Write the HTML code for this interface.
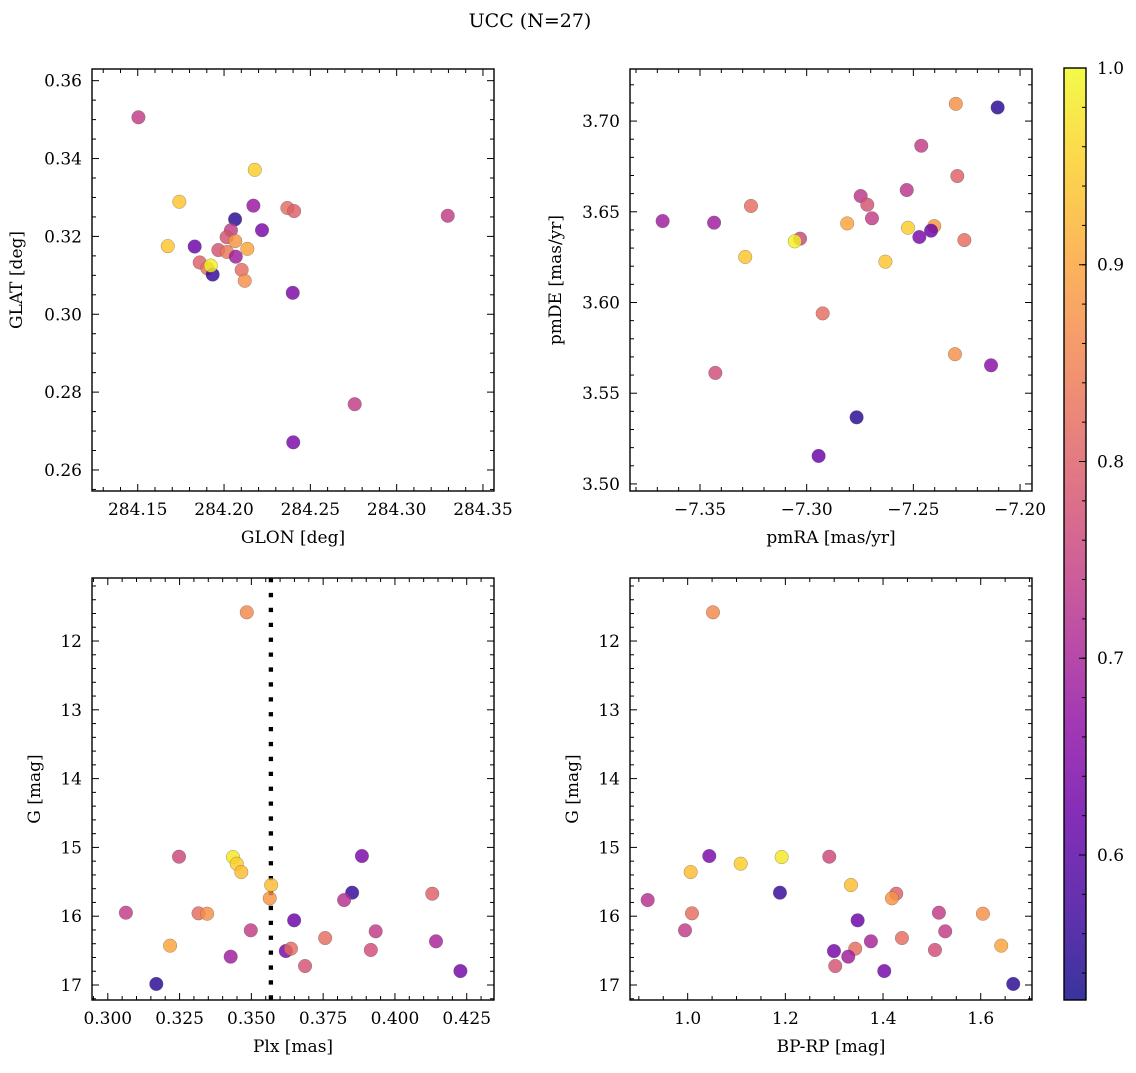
<!DOCTYPE html>
<html><head><meta charset="utf-8"><style>
html,body{margin:0;padding:0;background:#fff;}
svg text{font-family:"DejaVu Serif","Liberation Serif",serif;fill:#000;}
</style></head><body>
<svg id="fig" width="1136" height="1068" viewBox="0 0 1136 1068" xmlns="http://www.w3.org/2000/svg">
<text x="530" y="27" font-size="19" text-anchor="middle">UCC (N=27)</text>
</svg>
<script>
// Panel 1: sky positions
const glon=[284.1504,284.2178,284.1741,284.2170,284.2367,284.2406,284.3296,284.2064,284.2220,284.2040,284.2015,284.2065,284.1674,284.1830,284.1967,284.2017,284.2135,284.2068,284.1859,284.1903,284.1934,284.1923,284.2102,284.2120,284.2398,284.2757,284.2401];
const glat=[0.3506,0.3371,0.3289,0.3279,0.3273,0.3265,0.3253,0.3244,0.3216,0.3216,0.3198,0.3188,0.3175,0.3174,0.3165,0.3160,0.3168,0.3148,0.3133,0.3118,0.3102,0.3125,0.3114,0.3086,0.3055,0.2769,0.2671];
const prob1=[0.74,0.95,0.94,0.68,0.82,0.80,0.74,0.55,0.64,0.74,0.78,0.88,0.94,0.62,0.78,0.84,0.90,0.69,0.80,0.83,0.56,0.99,0.82,0.87,0.64,0.74,0.64];
// Panel 2: proper motions
const pmra=[-7.2301,-7.2105,-7.2463,-7.2294,-7.2531,-7.2747,-7.2716,-7.3261,-7.2694,-7.3675,-7.3434,-7.2810,-7.2525,-7.2402,-7.2417,-7.2472,-7.3031,-7.3056,-7.2261,-7.3288,-7.2631,-7.2925,-7.2305,-7.2136,-7.3428,-7.2766,-7.2944];
const pmde=[3.7095,3.7075,3.6864,3.6697,3.6620,3.6587,3.6539,3.6532,3.6464,3.6449,3.6440,3.6436,3.6412,3.6421,3.6396,3.6361,3.6352,3.6337,3.6344,3.6251,3.6225,3.5940,3.5715,3.5654,3.5612,3.5367,3.5154];
const prob2=[0.87,0.55,0.74,0.80,0.73,0.73,0.78,0.82,0.74,0.69,0.69,0.90,0.95,0.88,0.62,0.64,0.76,0.99,0.82,0.94,0.94,0.82,0.87,0.66,0.77,0.55,0.62];
// Panels 3 & 4: photometry
const plx=[0.3484,0.3248,0.3436,0.3449,0.3465,0.3885,0.3569,0.3851,0.4130,0.3564,0.3823,0.3063,0.3316,0.3346,0.3649,0.3498,0.3933,0.3757,0.4143,0.3217,0.3620,0.3638,0.3916,0.3428,0.3687,0.4228,0.3169];
const bprp=[1.0518,1.2899,1.1924,1.1085,1.0061,1.0442,1.3343,1.1889,1.4270,1.4182,0.9181,1.5144,1.0088,1.6045,1.3480,0.9945,1.5273,1.4387,1.3752,1.6420,1.2995,1.3431,1.5063,1.3288,1.3022,1.4025,1.6666];
const gmag=[11.583,15.135,15.14,15.237,15.358,15.125,15.547,15.658,15.673,15.74,15.765,15.949,15.958,15.964,16.06,16.205,16.22,16.317,16.365,16.428,16.506,16.472,16.491,16.588,16.724,16.797,16.985];
const prob34=[0.86,0.76,0.98,0.95,0.93,0.64,0.93,0.56,0.80,0.88,0.72,0.74,0.82,0.87,0.62,0.74,0.74,0.82,0.70,0.90,0.63,0.82,0.77,0.69,0.78,0.63,0.55];
const plxMedian=[0.3568];
const cbTicks=[0.6,0.7,0.8,0.9,1.0];

const NS='http://www.w3.org/2000/svg';
const svg=document.getElementById('fig');
function mk(tag,attrs,parent){const e=document.createElementNS(NS,tag);for(const k in attrs)e.setAttribute(k,attrs[k]);(parent||svg).appendChild(e);return e;}
const stops=[[0,'#0d0887'],[0.1,'#41049d'],[0.2,'#6a00a8'],[0.3,'#8f0da4'],[0.4,'#b12a90'],[0.5,'#cc4778'],[0.6,'#e16462'],[0.7,'#f2844b'],[0.8,'#fca636'],[0.9,'#fcce25'],[1,'#f0f921']];
function hex(h){return [parseInt(h.substr(1,2),16),parseInt(h.substr(3,2),16),parseInt(h.substr(5,2),16)];}
function plasma(t){t=Math.max(0,Math.min(1,t));for(let i=0;i<stops.length-1;i++){if(t<=stops[i+1][0]){const f=(t-stops[i][0])/(stops[i+1][0]-stops[i][0]);const a=hex(stops[i][1]),b=hex(stops[i+1][1]);return 'rgb('+a.map((v,j)=>Math.round(v+(b[j]-v)*f)).join(',')+')';}}return stops[10][1];}
const VMIN=0.5263,VMAX=1.0;
function cmap(v){return plasma((v-VMIN)/(VMAX-VMIN));}

function panel(p){
  const g=mk('g',{});
  
  
  const sx=v=>p.x0+(v-p.xd[0])/(p.xd[1]-p.xd[0])*(p.x1-p.x0);
  const syf=p.inv? (v=>p.y0+(v-p.yd[0])/(p.yd[1]-p.yd[0])*(p.y1-p.y0)) : (v=>p.y1-(v-p.yd[0])/(p.yd[1]-p.yd[0])*(p.y1-p.y0));
  if(p.vline){const l=mk('line',{x1:sx(p.vline[0]),x2:sx(p.vline[0]),y1:p.y0,y2:p.y1,stroke:'#000','stroke-width':4.3,'stroke-dasharray':'4.3 10.6'},g);
    
    }
  for(let i=0;i<p.xs.length;i++){
    const c=mk('circle',{cx:sx(p.xs[i]),cy:syf(p.ys[i]),r:6.8,fill:cmap(p.cs[i]),'fill-opacity':0.82,stroke:'rgba(90,90,90,0.6)','stroke-width':0.5},g);
    
    
  }
  const fr=mk('rect',{x:p.x0,y:p.y0,width:p.x1-p.x0,height:p.y1-p.y0,fill:'none',stroke:'#000','stroke-width':1.4},g);
  
  
  let t0=Math.ceil(p.xd[0]/p.xminor-1e-9);
  for(let k=t0;k*p.xminor<=p.xd[1]+1e-9;k++){const v=k*p.xminor;const X=sx(v);const maj=Math.abs(v/p.xmajor-Math.round(v/p.xmajor))<1e-6;const L=maj?7:4;
    mk('line',{x1:X,x2:X,y1:p.y1,y2:p.y1-L,stroke:'#000','stroke-width':1},g);mk('line',{x1:X,x2:X,y1:p.y0,y2:p.y0+L,stroke:'#000','stroke-width':1},g);
    if(maj){const t=mk('text',{x:X,y:p.y1+24,'font-size':17,'text-anchor':'middle'},g);t.textContent=p.xfmt(v);
      
      }}
  t0=Math.ceil(Math.min(p.yd[0],p.yd[1])/p.yminor-1e-9);const ymax=Math.max(p.yd[0],p.yd[1]);
  for(let k=t0;k*p.yminor<=ymax+1e-9;k++){const v=k*p.yminor;const Y=syf(v);const maj=Math.abs(v/p.ymajor-Math.round(v/p.ymajor))<1e-6;const L=maj?7:4;
    mk('line',{x1:p.x0,x2:p.x0+L,y1:Y,y2:Y,stroke:'#000','stroke-width':1},g);mk('line',{x1:p.x1,x2:p.x1-L,y1:Y,y2:Y,stroke:'#000','stroke-width':1},g);
    if(maj){const t=mk('text',{x:p.x0-10,y:Y+6,'font-size':17,'text-anchor':'end'},g);t.textContent=p.yfmt(v);
      
      }}
  const xl=mk('text',{x:(p.x0+p.x1)/2,y:p.y1+52,'font-size':17,'text-anchor':'middle'},g);xl.textContent=p.xlabel;
  
  
  const cy=(p.y0+p.y1)/2;
  const yl=mk('text',{x:p.ylx,y:cy,'font-size':17,'text-anchor':'middle',transform:'rotate(-90 '+p.ylx+' '+cy+')'},g);yl.textContent=p.ylabel;
  
  
}
const minus=s=>s.replace('-','\u2212');
panel({name:'glon-glat-panel',x0:92,x1:494,y0:69,y1:491,xd:[284.1235,284.3564],yd:[0.2546,0.363],xs:glon,ys:glat,cs:prob1,xmajor:0.05,xminor:0.01,ymajor:0.02,yminor:0.005,xfmt:v=>v.toFixed(2),yfmt:v=>v.toFixed(2),xlabel:'GLON [deg]',ylabel:'GLAT [deg]',ylx:22});
panel({name:'proper-motion-panel',x0:630,x1:1032,y0:69,y1:491,xd:[-7.3828,-7.1944],yd:[3.4961,3.7287],xs:pmra,ys:pmde,cs:prob2,xmajor:0.05,xminor:0.01,ymajor:0.05,yminor:0.01,xfmt:v=>minus(v.toFixed(2)),yfmt:v=>v.toFixed(2),xlabel:'pmRA [mas/yr]',ylabel:'pmDE [mas/yr]',ylx:561});
panel({name:'plx-g-panel',x0:92,x1:494,y0:578,y1:1000,inv:true,xd:[0.2945,0.4345],yd:[11.084,17.218],xs:plx,ys:gmag,cs:prob34,xmajor:0.025,xminor:0.005,ymajor:1,yminor:0.2,xfmt:v=>v.toFixed(3),yfmt:v=>v.toFixed(0),xlabel:'Plx [mas]',ylabel:'G [mag]',ylx:40,vline:plxMedian});
panel({name:'cmd-panel',x0:630,x1:1032,y0:578,y1:1000,inv:true,xd:[0.8819,1.705],yd:[11.084,17.218],xs:bprp,ys:gmag,cs:prob34,xmajor:0.2,xminor:0.05,ymajor:1,yminor:0.2,xfmt:v=>v.toFixed(1),yfmt:v=>v.toFixed(0),xlabel:'BP-RP [mag]',ylabel:'G [mag]',ylx:578});

// colorbar
const cb=mk('g',{});


const defs=mk('defs',{},cb);const lg=mk('linearGradient',{id:'cbg',x1:0,y1:1,x2:0,y2:0},defs);
for(let i=0;i<=20;i++){const v=VMIN+(VMAX-VMIN)*i/20;mk('stop',{offset:i/20,'stop-color':cmap(v),'stop-opacity':0.82},lg);}
const CB={x0:1064,x1:1086,y0:68,y1:1000};
const cby=v=>CB.y1-(v-VMIN)/(VMAX-VMIN)*(CB.y1-CB.y0);
mk('rect',{x:CB.x0,y:CB.y0,width:CB.x1-CB.x0,height:CB.y1-CB.y0,fill:'url(#cbg)',stroke:'#000','stroke-width':1.4},cb);
for(let k=27;k<=50;k++){const v=k*0.02;if(v<VMIN||v>VMAX+1e-9)continue;const Y=cby(v);mk('line',{x1:CB.x1,x2:CB.x1-4,y1:Y,y2:Y,stroke:'#000','stroke-width':1},cb);}
cbTicks.forEach(v=>{const Y=cby(v);mk('line',{x1:CB.x1,x2:CB.x1-7,y1:Y,y2:Y,stroke:'#000','stroke-width':1},cb);
  const t=mk('text',{x:CB.x1+11,y:Y+6,'font-size':17},cb);t.textContent=v.toFixed(1);
  
  });
</script>
</body></html>
